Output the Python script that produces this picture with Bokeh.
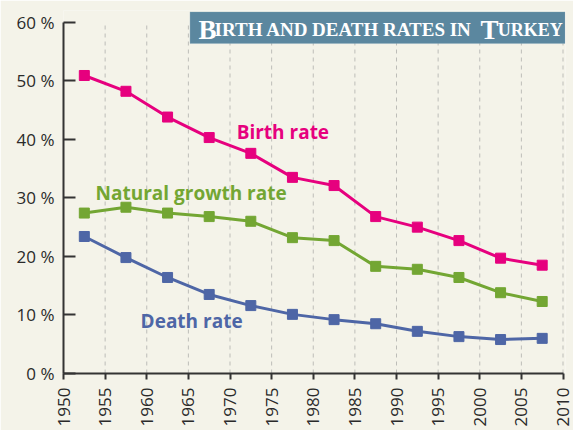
import math
from bokeh.plotting import figure
from bokeh.models import Range1d, FixedTicker, Label, BoxAnnotation
from bokeh.embed import file_html
from bokeh.resources import INLINE

years = [1952.5, 1957.5, 1962.5, 1967.5, 1972.5, 1977.5, 1982.5, 1987.5, 1992.5, 1997.5, 2002.5, 2007.5]
birth_rate = [50.9, 48.2, 43.8, 40.3, 37.6, 33.5, 32.1, 26.8, 25.0, 22.7, 19.7, 18.5]
growth_rate = [27.4, 28.4, 27.4, 26.8, 26.0, 23.2, 22.7, 18.3, 17.8, 16.4, 13.8, 12.3]
death_rate = [23.4, 19.8, 16.4, 13.5, 11.6, 10.1, 9.2, 8.5, 7.2, 6.3, 5.8, 6.0]
x_ticks = list(range(1950, 2011, 5))
y_ticks = [0, 10, 20, 30, 40, 50, 60]
y_tick_labels = {v: f"{v} %" for v in y_ticks}

BG = "#f4f3e9"
PINK = "#e6007e"
GREEN = "#73a633"
BLUE = "#4e66a6"
TITLE_BG = "#5b879f"

p = figure(width=573, height=430, output_backend="svg", toolbar_location=None,
           x_range=Range1d(1950, 2010.3), y_range=Range1d(0, 62),
           min_border_left=63, min_border_right=8, min_border_top=10, min_border_bottom=57)
p.background_fill_color = BG
p.border_fill_color = BG
p.outline_line_color = None

# grid (vertical dashed lines at the x ticks, from 0 to the top tick)
p.xgrid.grid_line_color = None
p.ygrid.grid_line_color = None
p.segment(x0=x_ticks, y0=[y_ticks[0]] * len(x_ticks), x1=x_ticks, y1=[y_ticks[-1]] * len(x_ticks),
          line_color="#bdbdb8", line_dash="4 4", line_width=1)

# axes
p.xaxis.ticker = FixedTicker(ticks=x_ticks)
p.yaxis.ticker = FixedTicker(ticks=y_ticks)
p.xaxis.bounds = (x_ticks[0], x_ticks[-1])
p.yaxis.bounds = (y_ticks[0], y_ticks[-1])
p.yaxis.major_label_overrides = y_tick_labels
p.xaxis.major_label_orientation = math.pi / 2
for ax in (p.xaxis, p.yaxis):
    ax.axis_line_color = "#333333"
    ax.axis_line_width = 2
    ax.major_tick_line_color = "#333333"
    ax.major_tick_line_width = 2
    ax.minor_tick_line_color = None
    ax.major_label_text_font = "Open Sans"
    ax.major_label_text_font_size = "17px"
    ax.major_label_text_color = "#2a2a2a"
p.yaxis.major_tick_in = 12
p.yaxis.major_tick_out = 0
p.yaxis.major_label_standoff = 9
p.xaxis.major_tick_in = 0
p.xaxis.major_tick_out = 6
p.xaxis.major_label_standoff = 8

# series
for vals, col in ((birth_rate, PINK), (growth_rate, GREEN), (death_rate, BLUE)):
    p.line(years, vals, line_color=col, line_width=3)
    p.scatter(years, vals, marker="square", size=10, fill_color=col, line_color=col)

# series labels
for txt, x, y, col in (("Birth rate", 1970.8, 41.3, PINK),
                       ("Natural growth rate", 1953.85, 30.9, GREEN),
                       ("Death rate", 1959.26, 9.0, BLUE)):
    p.add_layout(Label(x=x, y=y, text=txt, text_color=col, text_font="Open Sans",
                       text_font_style="bold", text_font_size="19px",
                       text_baseline="alphabetic", text_align="left"))

# title box
p.add_layout(BoxAnnotation(left=1965.2, right=2010.24, top=61.76, bottom=56.36,
                           fill_color=TITLE_BG, fill_alpha=1.0, line_color="#86a9bd",
                           line_width=1, level="overlay"))
for txt, x, size in (("B", 1966.23, "27px"), ("IRTH AND DEATH RATES IN", 1968.15, "19px"),
                     ("T", 2000.1, "27px"), ("URKEY", 2002.15, "18px")):
    p.add_layout(Label(x=x, y=58.7, text=txt, text_color="white", text_font="Liberation Serif",
                       text_font_style="bold", text_font_size=size,
                       text_baseline="alphabetic", text_align="left", level="overlay"))

html = file_html(p, INLINE)
html = html.replace("<body>", f'<body style="background-color:{BG};">', 1)
open("out.html", "w").write(html)
